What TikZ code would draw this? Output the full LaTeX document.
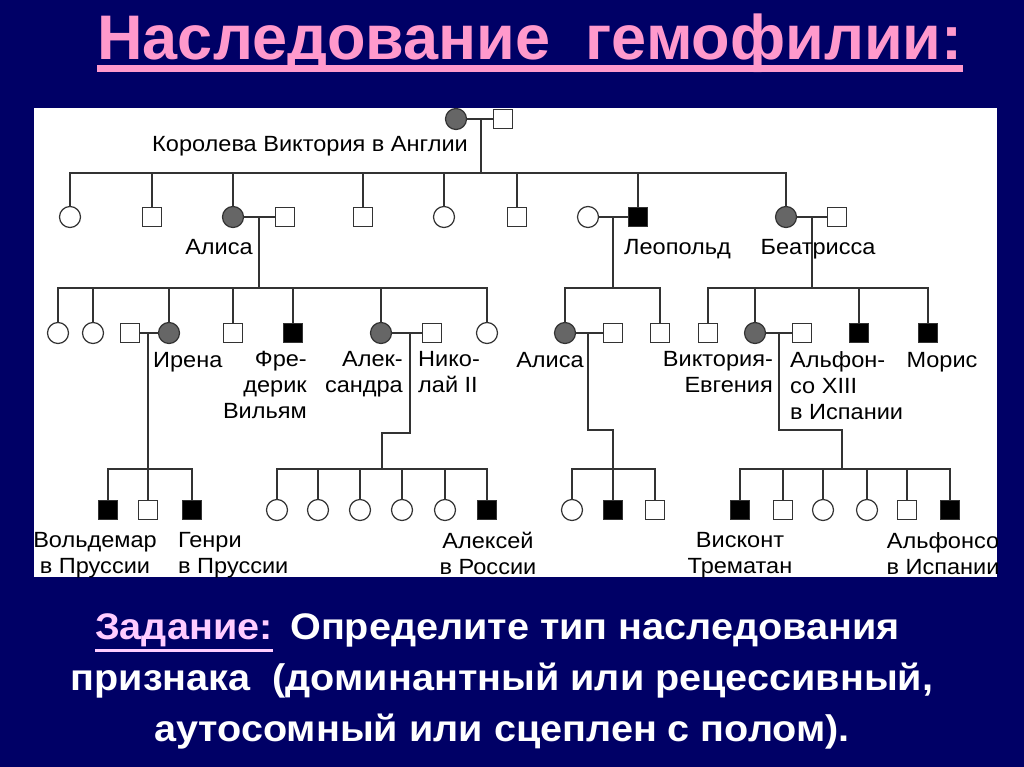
\documentclass[tikz,border=0pt]{standalone}
\usepackage{fontspec}
\setmainfont{Liberation Sans}
\newfontfamily\widefont[FakeStretch=1.07]{Liberation Sans}
\usepackage{xcolor}
\definecolor{slide}{HTML}{000066}
\definecolor{titlepink}{HTML}{FF99CC}
\definecolor{taskpink}{HTML}{FFCCFF}
\definecolor{pedline}{HTML}{333333}
\definecolor{carrier}{HTML}{666666}

\begin{document}
\begin{tikzpicture}[x=1pt,y=-1pt,
  fem/.style={circle,draw=pedline,line width=1.2pt,fill=white,minimum size=21pt,inner sep=0pt},
  mal/.style={rectangle,draw=pedline,line width=1.2pt,fill=white,minimum size=19pt,inner sep=0pt},
  car/.style={fill=carrier},
  ill/.style={fill=black},
  kin/.style={draw=pedline,line width=1.2pt},
  lbl/.style={font=\widefont\fontsize{22}{26}\selectfont,inner sep=0pt,text=black},
  big/.style={font=\widefont\bfseries\fontsize{37}{51}\selectfont,inner sep=0pt,text=white}]
\fill[slide] (0,0) rectangle (1024,767);
\useasboundingbox (0,0) rectangle (1024,767);
\node (title) [anchor=base,text=titlepink,font=\bfseries\fontsize{63}{72}\selectfont,inner sep=0pt] at (530,60) {Наследование\ \ гемофилии:};
\fill[titlepink] ([yshift=-5pt]title.base west) rectangle ([yshift=-12pt]title.base east);
\fill[white] (34,108) rectangle (997,577);
\begin{scope}
\clip (34,108) rectangle (997,577);
\node (vic) [fem,car] at (456,119) {};
\node (vich) [mal] at (503,119) {};
\coordinate (j1) at (481,119);
\coordinate (b1) at (481,173);
\draw[kin] (vic) -- (vich);
\draw[kin] (j1) -- (b1);
\node (lvic) [lbl,anchor=base] at (310,152) {Королева Виктория в Англии};
\node (c1) [fem] at (70,217) {};
\node (c2) [mal] at (152,217) {};
\node (alice) [fem,car] at (233,217) {};
\node (aliceh) [mal] at (285,217) {};
\node (c4) [mal] at (363,217) {};
\node (c5) [fem] at (444,217) {};
\node (c6) [mal] at (517,217) {};
\node (leow) [fem] at (588,217) {};
\node (leo) [mal,ill] at (638,217) {};
\node (bea) [fem,car] at (786,217) {};
\node (beah) [mal] at (837,217) {};
\foreach \k in {c1,c2,alice,c4,c5,c6,leo,bea} \draw[kin] (b1) -| (\k.north);
\draw[kin] (alice) -- (aliceh);
\coordinate (j2) at (259,217);
\coordinate (b2) at (259,288);
\draw[kin] (j2) -- (b2);
\draw[kin] (leow) -- (leo);
\coordinate (j3) at (613,217);
\coordinate (b3) at (613,288);
\draw[kin] (j3) -- (b3);
\draw[kin] (bea) -- (beah);
\coordinate (j4) at (812,217);
\coordinate (b4) at (812,288);
\draw[kin] (j4) -- (b4);
\node (lalice) [lbl,anchor=base] at (219,254) {Алиса};
\node (lleo) [lbl,anchor=base west] at (624,254) {Леопольд};
\node (lbea) [lbl,anchor=base] at (818,254) {Беатрисса};
\node (d1) [fem] at (58,333) {};
\node (d2) [fem] at (93,333) {};
\node (ireneh) [mal] at (130,333) {};
\node (irene) [fem,car] at (169,333) {};
\node (d4) [mal] at (233,333) {};
\node (fred) [mal,ill] at (293,333) {};
\node (alex) [fem,car] at (381,333) {};
\node (nick) [mal] at (432,333) {};
\node (d7) [fem] at (487,333) {};
\node (alice2) [fem,car] at (565,333) {};
\node (alice2h) [mal] at (613,333) {};
\node (d9) [mal] at (660,333) {};
\node (d10) [mal] at (708,333) {};
\node (vicg) [fem,car] at (755,333) {};
\node (alfonso) [mal] at (802,333) {};
\node (d12) [mal,ill] at (859,333) {};
\node (maurice) [mal,ill] at (928,333) {};
\foreach \k in {d1,d2,irene,d4,fred,alex,d7} \draw[kin] (b2) -| (\k.north);
\foreach \k in {alice2,d9} \draw[kin] (b3) -| (\k.north);
\foreach \k in {d10,vicg,d12,maurice} \draw[kin] (b4) -| (\k.north);
\draw[kin] (ireneh) -- (irene);
\coordinate (j5) at (148,333);
\coordinate (b5) at (148,469);
\draw[kin] (j5) -- (b5);
\draw[kin] (alex) -- (nick);
\coordinate (j6) at (410,333);
\coordinate (k6) at (382,433);
\coordinate (b6) at (382,469);
\draw[kin] (j6) |- (k6) -- (b6);
\draw[kin] (alice2) -- (alice2h);
\coordinate (j7) at (588,333);
\coordinate (k7) at (613,430);
\coordinate (b7) at (613,469);
\draw[kin] (j7) |- (k7) -- (b7);
\draw[kin] (vicg) -- (alfonso);
\coordinate (j8) at (779,333);
\coordinate (k8) at (842,430);
\coordinate (b8) at (842,469);
\draw[kin] (j8) |- (k8) -- (b8);
\node (lirene) [lbl,anchor=base west] at (153,367) {Ирена};
\node (lfred) [lbl,anchor=north east,align=right] at (307,351) {Фре-\\дерик\\Вильям};
\node (lalex) [lbl,anchor=north east,align=right] at (403,351) {Алек-\\сандра};
\node (lnick) [lbl,anchor=north west,align=left] at (418,351) {Нико-\\лай II};
\node (lalice2) [lbl,anchor=base] at (550,367) {Алиса};
\node (lvicg) [lbl,anchor=north east,align=right] at (773,351) {Виктория-\\Евгения};
\node (lalf) [lbl,anchor=north west,align=left] at (790,351) {Альфон-\\со XIII\\в Испании};
\node (lmau) [lbl,anchor=base] at (942,367) {Морис};
\node (wal) [mal,ill] at (108,510) {};
\node (e2) [mal] at (148,510) {};
\node (hen) [mal,ill] at (192,510) {};
\node (e4) [fem] at (277,510) {};
\node (e5) [fem] at (318,510) {};
\node (e6) [fem] at (360,510) {};
\node (e7) [fem] at (402,510) {};
\node (e8) [fem] at (445,510) {};
\node (alexei) [mal,ill] at (487,510) {};
\node (e10) [fem] at (572,510) {};
\node (e11) [mal,ill] at (613,510) {};
\node (e12) [mal] at (655,510) {};
\node (trem) [mal,ill] at (740,510) {};
\node (e14) [mal] at (783,510) {};
\node (e15) [fem] at (823,510) {};
\node (e16) [fem] at (867,510) {};
\node (e17) [mal] at (907,510) {};
\node (alf2) [mal,ill] at (950,510) {};
\foreach \k in {wal,e2,hen} \draw[kin] (b5) -| (\k.north);
\foreach \k in {e4,e5,e6,e7,e8,alexei} \draw[kin] (b6) -| (\k.north);
\foreach \k in {e10,e11,e12} \draw[kin] (b7) -| (\k.north);
\foreach \k in {trem,e14,e15,e16,e17,alf2} \draw[kin] (b8) -| (\k.north);
\node (lwal) [lbl,anchor=north,align=center] at (95,532) {Вольдемар\\в Пруссии};
\node (lhen) [lbl,anchor=north west,align=left] at (178,532) {Генри\\в Пруссии};
\node (lalexei) [lbl,anchor=north,align=center] at (488,532) {Алексей\\в России};
\node (ltrem) [lbl,anchor=north,align=center] at (740,532) {Висконт\\Трематан};
\node (lalf2) [lbl,anchor=north,align=center] at (943,532) {Альфонсо\\в Испании};
\end{scope}
\node (task) [big,anchor=base west,text=taskpink] at (95,639) {Задание:};
\fill[taskpink] ([yshift=-10pt]task.base west) rectangle ([yshift=-13pt]task.base east);
\node (q1) [big,anchor=base west] at (290,639) {Определите тип наследования};
\node (q2) [big,anchor=base] at (502,690) {признака\ \ (доминантный или рецессивный,};
\node (q3) [big,anchor=base] at (502,741) {аутосомный или сцеплен с полом).};
\end{tikzpicture}
\end{document}
